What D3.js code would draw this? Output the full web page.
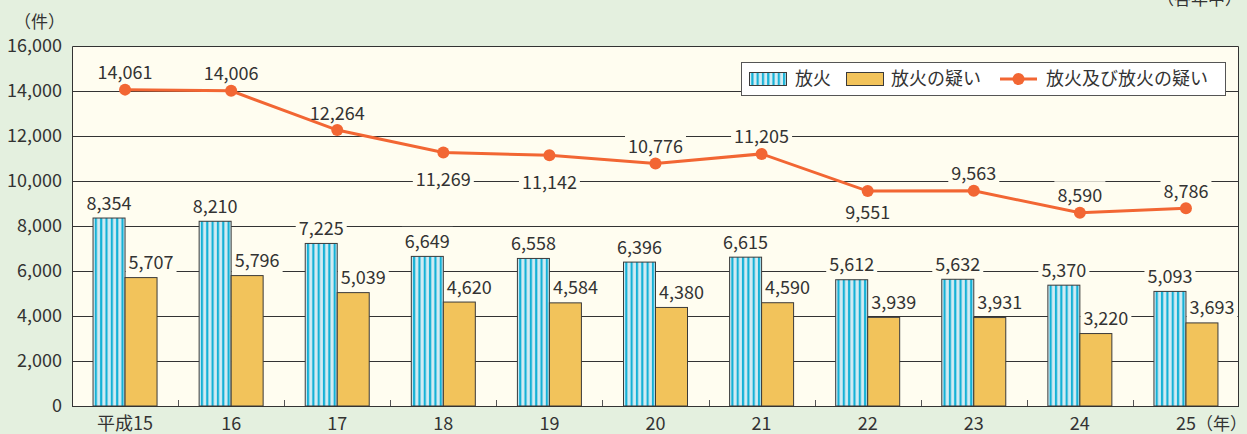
<!DOCTYPE html>
<html>
<head>
<meta charset="utf-8">
<script src="https://cdn.jsdelivr.net/npm/d3@7"></script>
<style>
  body { margin: 0; background: #e4f0df; }
  svg { display: block; }
  text { font-family: "Noto Sans CJK JP", "Noto Sans", sans-serif; fill: #333; }
</style>
</head>
<body>
<div id="chart"></div>
<script>
// data
var years = ['平成15', '16', '17', '18', '19', '20', '21', '22', '23', '24', '25'];
var arson = [8354, 8210, 7225, 6649, 6558, 6396, 6615, 5612, 5632, 5370, 5093];
var suspected = [5707, 5796, 5039, 4620, 4584, 4380, 4590, 3939, 3931, 3220, 3693];
var total = [14061, 14006, 12264, 11269, 11142, 10776, 11205, 9551, 9563, 8590, 8786];
// label under the point for these years
var totalBelow = [false, false, false, true, true, false, false, true, false, false, false];
var yTicks = [0, 2000, 4000, 6000, 8000, 10000, 12000, 14000, 16000];

var width = 1247, height = 434;
var margin = {left: 72, right: 8, top: 46, bottom: 28};
var fmt = d3.format(',');

var svg = d3.select('#chart').append('svg')
    .attr('width', width)
    .attr('height', height);

var defs = svg.append('defs');
var stripes = defs.append('pattern')
    .attr('id', 'stripes')
    .attr('patternUnits', 'objectBoundingBox')
    .attr('width', 1 / 6).attr('height', 1);
stripes.append('rect').attr('width', 40).attr('height', 400).attr('fill', '#d3ebf3');
stripes.append('rect').attr('x', 1.7).attr('width', 2.2).attr('height', 400).attr('fill', '#14b1d6');

var x = d3.scaleBand()
    .domain(years)
    .range([margin.left, width - margin.right]);

var y = d3.scaleLinear()
    .domain([0, 16000])
    .range([height - margin.bottom, margin.top]);

// plot background
svg.append('rect')
    .attr('x', margin.left).attr('y', margin.top)
    .attr('width', width - margin.left - margin.right)
    .attr('height', height - margin.top - margin.bottom)
    .attr('fill', '#fffdf0');

// gridlines
svg.append('g')
    .selectAll('line')
    .data(yTicks.slice(1, -1))
    .enter().append('line')
    .attr('x1', margin.left).attr('x2', width - margin.right)
    .attr('y1', d => y(d) + 0.5).attr('y2', d => y(d) + 0.5)
    .attr('stroke', '#333').attr('stroke-width', 1);

var barW = 32;
var labelsLayer = svg.append('g');
var barsLayer = svg.append('g');
var lineLayer = svg.append('g');
var textLayer = svg.append('g');

// label with a background box that hides the gridline
function addLabel(cx, baseline, str) {
    var t = textLayer.append('text')
        .attr('x', cx).attr('y', baseline)
        .attr('text-anchor', 'middle')
        .attr('font-size', 18)
        .text(str);
    var b = t.node().getBBox();
    labelsLayer.append('rect')
        .attr('x', b.x - 3).attr('y', b.y)
        .attr('width', b.width + 6).attr('height', b.height)
        .attr('fill', '#fffdf0');
}

barsLayer.selectAll('rect.arson')
    .data(arson)
    .enter().append('rect')
    .attr('class', 'arson')
    .attr('x', (d, i) => x(years[i]) + x.bandwidth() / 2 - barW)
    .attr('y', d => y(d))
    .attr('width', barW)
    .attr('height', d => y(0) - y(d))
    .attr('fill', 'url(#stripes)')
    .attr('stroke', '#3a3a3a').attr('stroke-width', 1);

barsLayer.selectAll('rect.susp')
    .data(suspected)
    .enter().append('rect')
    .attr('class', 'susp')
    .attr('x', (d, i) => x(years[i]) + x.bandwidth() / 2)
    .attr('y', d => y(d))
    .attr('width', barW)
    .attr('height', d => y(0) - y(d))
    .attr('fill', '#f2c35b')
    .attr('stroke', '#3a3a3a').attr('stroke-width', 1);

arson.forEach((d, i) => {
    addLabel(x(years[i]) + x.bandwidth() / 2 - barW / 2, y(d) - 8.5, fmt(d));
});
suspected.forEach((d, i) => {
    addLabel(x(years[i]) + x.bandwidth() / 2 + barW / 2 + 10, y(d) - 8.5, fmt(d));
});

var line = d3.line()
    .x((d, i) => x(years[i]) + x.bandwidth() / 2)
    .y(d => y(d));

lineLayer.append('path')
    .datum(total)
    .attr('d', line)
    .attr('fill', 'none')
    .attr('stroke', '#f26633')
    .attr('stroke-width', 3);

lineLayer.selectAll('circle')
    .data(total)
    .enter().append('circle')
    .attr('cx', (d, i) => x(years[i]) + x.bandwidth() / 2)
    .attr('cy', d => y(d))
    .attr('r', 6)
    .attr('fill', '#f26633');

total.forEach((d, i) => {
    var cx = x(years[i]) + x.bandwidth() / 2;
    var below = i === 7 ? 28 : 33.5;   // 9,551 sits a bit closer to its point
    addLabel(cx, totalBelow[i] ? y(d) + below : y(d) - 10.5, fmt(d));
});

// frame: left, top, right, bottom
svg.append('path')
    .attr('d', 'M' + (margin.left + 0.5) + ',' + y(0) +
        'V' + (margin.top + 0.5) + 'H' + (width - margin.right - 0.5) + 'V' + y(0))
    .attr('fill', 'none').attr('stroke', '#333');
svg.append('line')
    .attr('x1', margin.left).attr('x2', width - margin.right)
    .attr('y1', y(0) + 0.5).attr('y2', y(0) + 0.5)
    .attr('stroke', '#333');

// small ticks between categories
svg.append('g')
    .selectAll('line')
    .data(years.slice(1))
    .enter().append('line')
    .attr('x1', d => Math.round(x(d)) + 0.5).attr('x2', d => Math.round(x(d)) + 0.5)
    .attr('y1', y(0)).attr('y2', y(0) - 6)
    .attr('stroke', '#555');

// y axis labels
svg.append('g')
    .selectAll('text')
    .data(yTicks)
    .enter().append('text')
    .attr('x', 62)
    .attr('y', d => y(d))
    .attr('dy', '0.35em')
    .attr('text-anchor', 'end')
    .attr('font-size', 18)
    .text(d => fmt(d));

// x axis labels
svg.append('g')
    .selectAll('text')
    .data(years)
    .enter().append('text')
    .attr('x', d => x(d) + x.bandwidth() / 2)
    .attr('y', 424)
    .attr('dy', '0.35em')
    .attr('text-anchor', 'middle')
    .attr('font-size', 18)
    .text(d => d);

svg.append('text').attr('x', 14).attr('y', 22).attr('dy', '0.35em')
    .attr('font-size', 17).text('（件）');
svg.append('text').attr('x', 1247).attr('y', 424).attr('dy', '0.35em')
    .attr('text-anchor', 'end').attr('font-size', 17).text('（年）');
// cut off at the top edge, as in the source figure
svg.append('text').attr('x', 1242).attr('y', -1).attr('dy', '0.35em')
    .attr('text-anchor', 'end').attr('font-size', 17).text('（各年中）');

// legend
var legend = svg.append('g');
legend.append('rect')
    .attr('x', 741.5).attr('y', 62.5).attr('width', 484).attr('height', 33)
    .attr('fill', '#fff').attr('stroke', '#555');

var legStripes = defs.append('pattern')
    .attr('id', 'legstripes')
    .attr('patternUnits', 'objectBoundingBox')
    .attr('width', 1 / 7).attr('height', 1);
legStripes.append('rect').attr('width', 40).attr('height', 40).attr('fill', '#d3ebf3');
legStripes.append('rect').attr('x', 1.8).attr('width', 2.2).attr('height', 40).attr('fill', '#14b1d6');

legend.append('rect')
    .attr('x', 749.5).attr('y', 72.5).attr('width', 37).attr('height', 13)
    .attr('fill', 'url(#legstripes)').attr('stroke', '#3a3a3a');
legend.append('text').attr('x', 795).attr('y', 79).attr('dy', '0.35em')
    .attr('font-size', 18).text('放火');
legend.append('rect')
    .attr('x', 846.5).attr('y', 72.5).attr('width', 37).attr('height', 13)
    .attr('fill', '#f2c35b').attr('stroke', '#3a3a3a');
legend.append('text').attr('x', 891).attr('y', 79).attr('dy', '0.35em')
    .attr('font-size', 18).text('放火の疑い');
legend.append('line')
    .attr('x1', 1000).attr('x2', 1037).attr('y1', 79).attr('y2', 79)
    .attr('stroke', '#f26633').attr('stroke-width', 3);
legend.append('circle').attr('cx', 1018.5).attr('cy', 79).attr('r', 6).attr('fill', '#f26633');
legend.append('text').attr('x', 1046).attr('y', 79).attr('dy', '0.35em')
    .attr('font-size', 18).text('放火及び放火の疑い');
</script>
</body>
</html>
